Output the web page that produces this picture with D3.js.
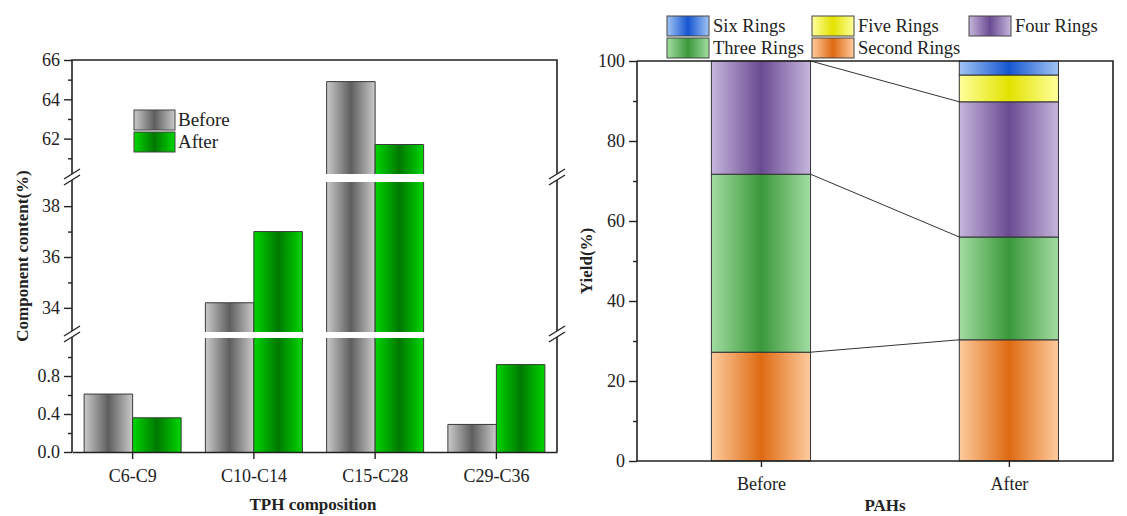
<!DOCTYPE html>
<html>
<head>
<meta charset="utf-8">
<script src="https://cdn.jsdelivr.net/npm/d3@7"></script>
<style>
  body { margin: 0; background: #fff; }
  text { font-family: "Liberation Serif", "Times New Roman", serif; fill: #222; }
</style>
</head>
<body>
<div id="chart"></div>
<script>
// TPH composition (left panel)
const tphCats = ["C6-C9", "C10-C14", "C15-C28", "C29-C36"];
const tphBefore = [0.61, 34.2, 64.9, 0.29];
const tphAfter = [0.36, 37.0, 61.7, 0.92];
const tphSeries = ["Before", "After"];

// PAHs ring distribution (right panel)
const pahGroups = ["Before", "After"];
const ringNames = ["Second Rings", "Three Rings", "Four Rings", "Five Rings", "Six Rings"];
const pahBefore = [27.2, 44.5, 28.3, 0, 0];
const pahAfter = [30.3, 25.7, 33.8, 6.7, 3.5];
const yieldTicks = [0, 20, 40, 60, 80, 100];

const W = 1127, H = 516;
const svg = d3.select("#chart").append("svg")
    .attr("width", W).attr("height", H);
const defs = svg.append("defs");

// horizontal "cylinder" gradients
function grad(id, edge, mid) {
  const g = defs.append("linearGradient").attr("id", id)
    .attr("x1", "0%").attr("x2", "100%").attr("y1", "0%").attr("y2", "0%");
  g.append("stop").attr("offset", "0%").attr("stop-color", edge);
  g.append("stop").attr("offset", "50%").attr("stop-color", mid);
  g.append("stop").attr("offset", "100%").attr("stop-color", edge);
}
grad("gGray", "#cacaca", "#5e5e5e");
grad("gGreen", "#00d600", "#007800");
const ringGrad = {
  "Second Rings": ["#fdcb9e", "#df6a12"],
  "Three Rings": ["#a2dca2", "#3a983a"],
  "Four Rings": ["#c6b6dc", "#6a4b92"],
  "Five Rings": ["#ffff9c", "#e2e200"],
  "Six Rings": ["#a2c4f4", "#1656d0"]
};
ringNames.forEach((r, i) => grad("gRing" + i, ringGrad[r][0], ringGrad[r][1]));

// ---------------- LEFT PANEL ----------------
const L = {left: 72, right: 557, top: 60, bottom: 452};

// broken y axis: three segments
const segs = [
  {y: d3.scaleLinear().domain([60.2, 66]).range([174, 60]), major: [62, 64, 66], minor: [61, 63, 65], fmt: d3.format("d")},
  {y: d3.scaleLinear().domain([33.05, 38.95]).range([332, 182]), major: [34, 36, 38], minor: [35, 37], fmt: d3.format("d")},
  {y: d3.scaleLinear().domain([0, 1.2]).range([452, 338]), major: [0, 0.4, 0.8], minor: [0.2, 0.6, 1.0], fmt: d3.format(".1f")}
];

const x0 = d3.scaleBand().domain(tphCats).range([L.left, L.right])
  .paddingInner(0.2).paddingOuter(0.1);
const x1 = d3.scaleBand().domain(tphSeries).range([0, x0.bandwidth()]);

const tphRows = tphCats.map((c, i) => ({cat: c, Before: tphBefore[i], After: tphAfter[i]}));
const left = svg.append("g");

tphRows.forEach(row => {
  tphSeries.forEach(s => {
    const v = row[s];
    const bx = x0(row.cat) + x1(s), bw = x1.bandwidth();
    segs.forEach(seg => {
      const [lo, hi] = seg.y.domain();
      if (v <= lo) return;
      const top = v < hi ? seg.y(v) : seg.y.range()[1];
      const bot = seg.y.range()[0];
      left.append("rect")
        .attr("x", bx).attr("y", top).attr("width", bw).attr("height", bot - top)
        .attr("fill", s === "Before" ? "url(#gGray)" : "url(#gGreen)");
      const p = v < hi
        ? `M${bx},${bot}V${top}H${bx + bw}V${bot}`
        : `M${bx},${bot}V${top}M${bx + bw},${top}V${bot}`;
      left.append("path").attr("d", p).attr("fill", "none")
        .attr("stroke", "#3a3a3a").attr("stroke-width", 1);
    });
  });
});

// y ticks per segment
segs.forEach(seg => {
  const g = left.append("g").attr("transform", `translate(${L.left},0)`)
    .call(d3.axisLeft(seg.y).tickValues(seg.major).tickSize(8).tickPadding(4).tickFormat(seg.fmt));
  g.select(".domain").remove();
  g.selectAll("text").style("font-size", "18px").style("font-family", "Liberation Serif");
  g.selectAll("line").attr("stroke", "#222").attr("stroke-width", 1.4);
  const m = left.append("g").attr("transform", `translate(${L.left},0)`)
    .call(d3.axisLeft(seg.y).tickValues(seg.minor).tickSize(4).tickFormat(""));
  m.select(".domain").remove();
  m.selectAll("line").attr("stroke", "#222").attr("stroke-width", 1.4);
});

// frame
const frameL = left.append("g").attr("stroke", "#222").attr("stroke-width", 1.6).attr("fill", "none");
frameL.append("path").attr("d", `M${L.left},${L.bottom}V${L.top}H${L.right}V${L.bottom}`);

// x axis
const xa = left.append("g").attr("transform", `translate(0,${L.bottom})`)
  .call(d3.axisBottom(x0).tickSize(7).tickSizeOuter(0).tickPadding(10));
xa.select(".domain").attr("stroke", "#222").attr("stroke-width", 1.6);
xa.selectAll("line").attr("stroke", "#222").attr("stroke-width", 1.4);
xa.selectAll("text").style("font-size", "18px").style("font-family", "Liberation Serif");

// break marks on both vertical axes
[177, 334].forEach(yb => {
  [L.left, L.right].forEach(xb => {
    left.append("rect").attr("x", xb - 2).attr("y", yb - 3).attr("width", 4).attr("height", 6).attr("fill", "#fff");
    [-3, 3].forEach(d => {
      left.append("line")
        .attr("x1", xb - 8).attr("y1", yb + d + 5)
        .attr("x2", xb + 8).attr("y2", yb + d - 5)
        .attr("stroke", "#222").attr("stroke-width", 1.4);
    });
  });
});

// legend
tphSeries.forEach((s, i) => {
  const ly = 110 + i * 22;
  left.append("rect").attr("x", 134).attr("y", ly).attr("width", 41).attr("height", 20)
    .attr("fill", s === "Before" ? "url(#gGray)" : "url(#gGreen)")
    .attr("stroke", "#444").attr("stroke-width", 1);
  left.append("text").attr("x", 178).attr("y", ly + 16).style("font-size", "19px").text(s);
});

// titles
left.append("text").attr("transform", "translate(28,256) rotate(-90)")
  .attr("text-anchor", "middle").style("font-size", "17px").style("font-weight", "bold")
  .text("Component content(%)");
left.append("text").attr("x", 313).attr("y", 510).attr("text-anchor", "middle")
  .style("font-size", "17px").style("font-weight", "bold").text("TPH composition");

// ---------------- RIGHT PANEL ----------------
const R = {left: 637, right: 1113, top: 61, bottom: 461};
const y = d3.scaleLinear().domain([0, 100]).range([R.bottom, R.top]);
const x = d3.scaleLinear().domain([-0.5, 1.42]).range([R.left, R.right]);
const barW = x(0.4) - x(0);
const right = svg.append("g");

const pahData = [pahBefore, pahAfter];
const cum = pahData.map(vals => {
  let acc = 0;
  return vals.map(v => { const s = acc; acc += v; return [s, acc]; });
});

// connecting lines between cumulative tops
[0, 1, 2].forEach(i => {
  right.append("line")
    .attr("x1", x(0) + barW / 2).attr("y1", y(cum[0][i][1]))
    .attr("x2", x(1) - barW / 2).attr("y2", y(cum[1][i][1]))
    .attr("stroke", "#333").attr("stroke-width", 1);
});

pahGroups.forEach((g, gi) => {
  cum[gi].forEach(([a, b], ri) => {
    if (b - a <= 0) return;
    right.append("rect")
      .attr("x", x(gi) - barW / 2).attr("y", y(b))
      .attr("width", barW).attr("height", y(a) - y(b))
      .attr("fill", `url(#gRing${ri})`)
      .attr("stroke", "#333").attr("stroke-width", 1);
  });
});

const ya = right.append("g").attr("transform", `translate(${R.left},0)`)
  .call(d3.axisLeft(y).tickValues(yieldTicks).tickSize(8).tickPadding(4).tickSizeOuter(0));
ya.select(".domain").remove();
ya.selectAll("line").attr("stroke", "#222").attr("stroke-width", 1.4);
ya.selectAll("text").style("font-size", "18px").style("font-family", "Liberation Serif");
const ym = right.append("g").attr("transform", `translate(${R.left},0)`)
  .call(d3.axisLeft(y).tickValues([10, 30, 50, 70, 90]).tickSize(4).tickFormat(""));
ym.select(".domain").remove();
ym.selectAll("line").attr("stroke", "#222").attr("stroke-width", 1.4);

const xb = right.append("g").attr("transform", `translate(0,${R.bottom})`)
  .call(d3.axisBottom(x).tickValues([0, 1]).tickFormat(i => pahGroups[i])
    .tickSize(6).tickSizeOuter(0).tickPadding(10));
xb.select(".domain").remove();
xb.selectAll("line").attr("stroke", "#222").attr("stroke-width", 1.4);
xb.selectAll("text").style("font-size", "18px").style("font-family", "Liberation Serif");

right.append("path")
  .attr("d", `M${R.left},${R.top}V${R.bottom}H${R.right}V${R.top}H${R.left}`)
  .attr("fill", "none").attr("stroke", "#222").attr("stroke-width", 1.6);

// legend (two rows, overlapping top frame)
const legendItems = [
  {name: "Six Rings", col: 0, row: 0},
  {name: "Five Rings", col: 1, row: 0},
  {name: "Four Rings", col: 2, row: 0},
  {name: "Three Rings", col: 0, row: 1},
  {name: "Second Rings", col: 1, row: 1}
];
const legX = [667, 812, 969];
legendItems.forEach(d => {
  const ly = 16 + d.row * 22;
  right.append("rect").attr("x", legX[d.col]).attr("y", ly).attr("width", 42).attr("height", 20)
    .attr("fill", `url(#gRing${ringNames.indexOf(d.name)})`)
    .attr("stroke", "#444").attr("stroke-width", 1);
  right.append("text").attr("x", legX[d.col] + 46).attr("y", ly + 16)
    .style("font-size", "18.5px").text(d.name);
});

right.append("text").attr("transform", "translate(592,261) rotate(-90)")
  .attr("text-anchor", "middle").style("font-size", "17px").style("font-weight", "bold")
  .text("Yield(%)");
right.append("text").attr("x", 885).attr("y", 511).attr("text-anchor", "middle")
  .style("font-size", "17px").style("font-weight", "bold").text("PAHs");
</script>
</body>
</html>
